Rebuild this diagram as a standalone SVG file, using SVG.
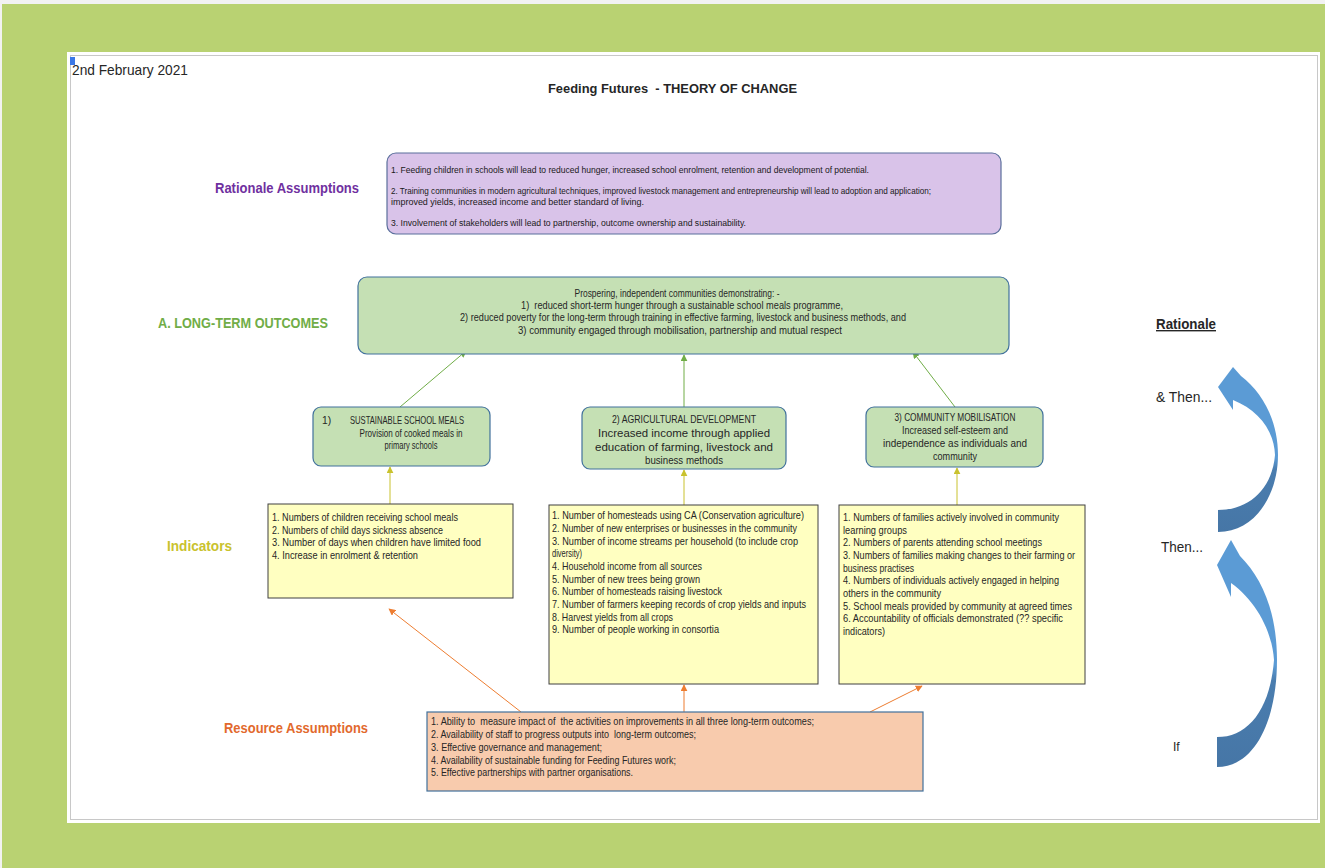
<svg xmlns="http://www.w3.org/2000/svg" width="1325" height="868" viewBox="0 0 1325 868">
<style>
text{font-family:"Liberation Sans",Arial,sans-serif;fill:#262626}
.t{font-size:10.3px}
.r{font-size:9.6px;fill:#1a1a1a}
.lbl{font-size:15px;font-weight:bold}
.rb{fill:#D9C3E9;stroke:#5B6F9C;stroke-width:1.2}
.gb{fill:#C5E0B4;stroke:#41719C;stroke-width:1.2}
.yb{fill:#FFFFC1;stroke:#404040;stroke-width:1}
.ob{fill:#F8CBAD;stroke:#41719C;stroke-width:1.2}
.cg{stroke:#70AD47;stroke-width:1;fill:none}
.cy{stroke:#C9C22E;stroke-width:1;fill:none}
.co{stroke:#ED7D31;stroke-width:1;fill:none}
.mid{text-anchor:middle}
</style>
<defs>
<marker id="ag" viewBox="0 0 10 10" refX="9" refY="5" markerWidth="7" markerHeight="7" markerUnits="userSpaceOnUse" orient="auto"><path d="M0,0 L10,5 L0,10 Z" fill="#70AD47"/></marker>
<marker id="ay" viewBox="0 0 10 10" refX="9" refY="5" markerWidth="7" markerHeight="7" markerUnits="userSpaceOnUse" orient="auto"><path d="M0,0 L10,5 L0,10 Z" fill="#C9C22E"/></marker>
<marker id="ao" viewBox="0 0 10 10" refX="9" refY="5" markerWidth="7" markerHeight="7" markerUnits="userSpaceOnUse" orient="auto"><path d="M0,0 L10,5 L0,10 Z" fill="#ED7D31"/></marker>
<linearGradient id="bl1" x1="0" y1="0" x2="0" y2="1"><stop offset="0" stop-color="#5B9BD5"/><stop offset="0.55" stop-color="#5B9BD5"/><stop offset="0.62" stop-color="#4A7DAF"/><stop offset="1" stop-color="#4676A6"/></linearGradient>
</defs>
<rect x="0" y="0" width="1325" height="868" fill="#F2F2F2"/>
<rect x="2" y="4" width="1323" height="864" fill="#B9D272"/>
<rect x="67" y="52" width="1253" height="771" fill="#FFFFFF"/>
<rect x="70.5" y="55.5" width="1247" height="764" fill="none" stroke="#C8C8C8" stroke-width="1"/>
<rect x="70" y="57" width="5" height="8" fill="#3B78E7"/>
<text x="72" y="75" style="font-size:15px" textLength="116" lengthAdjust="spacingAndGlyphs">2nd February 2021</text>
<text x="548" y="93" xml:space="preserve" style="font-size:13px;font-weight:bold" textLength="249" lengthAdjust="spacingAndGlyphs">Feeding Futures  - THEORY OF CHANGE</text>

<text x="215" y="193" class="lbl" style="fill:#7030A0" textLength="144" lengthAdjust="spacingAndGlyphs">Rationale Assumptions</text>
<text x="158" y="328" class="lbl" style="fill:#70AD47" textLength="170" lengthAdjust="spacingAndGlyphs">A. LONG-TERM OUTCOMES</text>
<text x="167" y="551" class="lbl" style="fill:#C9C22E" textLength="65" lengthAdjust="spacingAndGlyphs">Indicators</text>
<text x="224" y="733" class="lbl" style="fill:#E2692D" textLength="144" lengthAdjust="spacingAndGlyphs">Resource Assumptions</text>

<g id="connectors">
<line class="cg" x1="400" y1="407" x2="466" y2="351" marker-end="url(#ag)"/>
<line class="cg" x1="684" y1="407" x2="684" y2="355" marker-end="url(#ag)"/>
<line class="cg" x1="955" y1="407" x2="913" y2="352" marker-end="url(#ag)"/>
<line class="cy" x1="390" y1="504" x2="390" y2="467" marker-end="url(#ay)"/>
<line class="cy" x1="684" y1="505" x2="684" y2="470" marker-end="url(#ay)"/>
<line class="cy" x1="957" y1="505" x2="957" y2="468" marker-end="url(#ay)"/>
<line class="co" x1="521" y1="712" x2="389" y2="609" marker-end="url(#ao)"/>
<line class="co" x1="684" y1="712" x2="684" y2="685" marker-end="url(#ao)"/>
<line class="co" x1="870" y1="712" x2="922" y2="686" marker-end="url(#ao)"/>
</g>

<g id="rationale-assumptions">
<rect class="rb" x="387" y="153" width="614" height="81" rx="9"/>
<text class="r" x="391" y="173" textLength="478" lengthAdjust="spacingAndGlyphs">1. Feeding children in schools will lead to reduced hunger, increased school enrolment, retention and development of potential.</text>
<text class="r" x="391" y="194" textLength="540" lengthAdjust="spacingAndGlyphs">2. Training communities in modern agricultural techniques, improved livestock management and entrepreneurship will lead to adoption and application;</text>
<text class="r" x="391" y="205" textLength="253" lengthAdjust="spacingAndGlyphs">improved yields, increased income and better standard of living.</text>
<text class="r" x="391" y="226" textLength="355" lengthAdjust="spacingAndGlyphs">3. Involvement of stakeholders will lead to partnership, outcome ownership and sustainability.</text>
</g>

<g id="long-term-outcomes">
<rect class="gb" x="358" y="277" width="651" height="77" rx="9"/>
<text class="t mid" x="677" y="297" textLength="205" lengthAdjust="spacingAndGlyphs">Prospering, independent communities demonstrating: -</text>
<text class="t mid" x="682" y="309" xml:space="preserve" textLength="322" lengthAdjust="spacingAndGlyphs">1)  reduced short-term hunger through a sustainable school meals programme,</text>
<text class="t mid" x="683" y="321" textLength="446" lengthAdjust="spacingAndGlyphs">2) reduced poverty for the long-term through training in effective farming, livestock and business methods, and</text>
<text class="t mid" x="680" y="334" textLength="324" lengthAdjust="spacingAndGlyphs">3) community engaged through mobilisation, partnership and mutual respect</text>
</g>

<g id="school-meals">
<rect class="gb" x="313" y="407" width="177" height="59" rx="8"/>
<text class="t" x="322" y="424">1)</text>
<text class="t" x="350" y="424" textLength="114" lengthAdjust="spacingAndGlyphs">SUSTAINABLE SCHOOL MEALS</text>
<text class="t mid" x="411" y="437" textLength="103" lengthAdjust="spacingAndGlyphs">Provision of cooked meals in</text>
<text class="t mid" x="411" y="449" textLength="53" lengthAdjust="spacingAndGlyphs">primary schools</text>
</g>

<g id="agricultural-development">
<rect class="gb" x="582" y="407" width="204" height="62" rx="8"/>
<text class="t mid" x="684" y="423" style="font-size:11px" textLength="144" lengthAdjust="spacingAndGlyphs">2) AGRICULTURAL DEVELOPMENT</text>
<text class="t mid" x="684" y="437" style="font-size:11px" textLength="172" lengthAdjust="spacingAndGlyphs">Increased income through applied</text>
<text class="t mid" x="684" y="451" style="font-size:11px" textLength="178" lengthAdjust="spacingAndGlyphs">education of farming, livestock and</text>
<text class="t mid" x="684" y="464" style="font-size:11px" textLength="78" lengthAdjust="spacingAndGlyphs">business methods</text>
</g>

<g id="community-mobilisation">
<rect class="gb" x="866" y="407" width="177" height="60" rx="8"/>
<text class="t mid" x="955" y="421" textLength="121" lengthAdjust="spacingAndGlyphs">3) COMMUNITY MOBILISATION</text>
<text class="t mid" x="955" y="434" textLength="106" lengthAdjust="spacingAndGlyphs">Increased self-esteem and</text>
<text class="t mid" x="955" y="447" textLength="144" lengthAdjust="spacingAndGlyphs">independence as individuals and</text>
<text class="t mid" x="955" y="460" textLength="44" lengthAdjust="spacingAndGlyphs">community</text>
</g>

<g id="indicators-school-meals">
<rect class="yb" x="268" y="504" width="245" height="94"/>
<text class="t" x="272" y="521" textLength="186" lengthAdjust="spacingAndGlyphs">1. Numbers of children receiving school meals</text>
<text class="t" x="272" y="534" textLength="171" lengthAdjust="spacingAndGlyphs">2. Numbers of child days sickness absence</text>
<text class="t" x="272" y="546" textLength="209" lengthAdjust="spacingAndGlyphs">3. Number of days when children have limited food</text>
<text class="t" x="272" y="559" textLength="146" lengthAdjust="spacingAndGlyphs">4. Increase in enrolment &amp; retention</text>
</g>

<g id="indicators-agriculture">
<rect class="yb" x="549" y="505" width="269" height="179"/>
<text class="t" x="552" y="519" textLength="252" lengthAdjust="spacingAndGlyphs">1. Number of homesteads using CA (Conservation agriculture)</text>
<text class="t" x="552" y="532" textLength="245" lengthAdjust="spacingAndGlyphs">2. Number of new enterprises or businesses in the community</text>
<text class="t" x="552" y="545" textLength="246" lengthAdjust="spacingAndGlyphs">3. Number of income streams per household (to include crop</text>
<text class="t" x="552" y="557" textLength="30" lengthAdjust="spacingAndGlyphs">diversity)</text>
<text class="t" x="552" y="570" textLength="150" lengthAdjust="spacingAndGlyphs">4. Household income from all sources</text>
<text class="t" x="552" y="583" textLength="148" lengthAdjust="spacingAndGlyphs">5. Number of new trees being grown</text>
<text class="t" x="552" y="595" textLength="170" lengthAdjust="spacingAndGlyphs">6. Number of homesteads raising livestock</text>
<text class="t" x="552" y="608" textLength="254" lengthAdjust="spacingAndGlyphs">7. Number of farmers keeping records of crop yields and inputs</text>
<text class="t" x="552" y="621" textLength="121" lengthAdjust="spacingAndGlyphs">8. Harvest yields from all crops</text>
<text class="t" x="552" y="633" textLength="167" lengthAdjust="spacingAndGlyphs">9. Number of people working in consortia</text>
</g>

<g id="indicators-community">
<rect class="yb" x="839" y="505" width="246" height="179"/>
<text class="t" x="843" y="521" textLength="216" lengthAdjust="spacingAndGlyphs">1. Numbers of families actively involved in community</text>
<text class="t" x="843" y="534" textLength="64" lengthAdjust="spacingAndGlyphs">learning groups</text>
<text class="t" x="843" y="546" textLength="199" lengthAdjust="spacingAndGlyphs">2. Numbers of parents attending school meetings</text>
<text class="t" x="843" y="559" textLength="232" lengthAdjust="spacingAndGlyphs">3. Numbers of families making changes to their farming or</text>
<text class="t" x="843" y="572" textLength="71" lengthAdjust="spacingAndGlyphs">business practises</text>
<text class="t" x="843" y="584" textLength="216" lengthAdjust="spacingAndGlyphs">4. Numbers of individuals actively engaged in helping</text>
<text class="t" x="843" y="597" textLength="98" lengthAdjust="spacingAndGlyphs">others in the community</text>
<text class="t" x="843" y="610" textLength="229" lengthAdjust="spacingAndGlyphs">5. School meals provided by community at agreed times</text>
<text class="t" x="843" y="622" textLength="220" lengthAdjust="spacingAndGlyphs">6. Accountability of officials demonstrated (?? specific</text>
<text class="t" x="843" y="635" textLength="42" lengthAdjust="spacingAndGlyphs">indicators)</text>
</g>

<g id="resource-assumptions">
<rect class="ob" x="427" y="712" width="496" height="79"/>
<text class="t" x="431" y="725" xml:space="preserve" textLength="383" lengthAdjust="spacingAndGlyphs">1. Ability to  measure impact of  the activities on improvements in all three long-term outcomes;</text>
<text class="t" x="431" y="738" xml:space="preserve" textLength="265" lengthAdjust="spacingAndGlyphs">2. Availability of staff to progress outputs into  long-term outcomes;</text>
<text class="t" x="431" y="751" textLength="171" lengthAdjust="spacingAndGlyphs">3. Effective governance and management;</text>
<text class="t" x="431" y="764" textLength="245" lengthAdjust="spacingAndGlyphs">4. Availability of sustainable funding for Feeding Futures work;</text>
<text class="t" x="431" y="776" textLength="202" lengthAdjust="spacingAndGlyphs">5. Effective partnerships with partner organisations.</text>
</g>

<g id="rationale-flow">
<text x="1156" y="329" style="font-size:14px;font-weight:bold;text-decoration:underline" textLength="60" lengthAdjust="spacingAndGlyphs">Rationale</text>
<text x="1156" y="402" style="font-size:14px" textLength="56" lengthAdjust="spacingAndGlyphs">&amp; Then...</text>
<text x="1161" y="552" style="font-size:14px" textLength="42" lengthAdjust="spacingAndGlyphs">Then...</text>
<text x="1173" y="751" style="font-size:12px">If</text>
<path fill="url(#bl1)" d="M1218 532 C1255 532 1278 495 1278 455 C1278 420 1262 392 1241 376 L1233 367 L1218 387 L1233 410 L1233 400 C1258 410 1274 430 1275 455 C1272 490 1248 510 1218 510 Z"/>
<path fill="url(#bl1)" d="M1217 767 C1255 767 1277 720 1277 660 C1277 612 1262 578 1240 556 L1231 540 L1217 565 L1231 597 L1231 583 C1255 600 1272 630 1274 660 C1270 710 1248 737 1217 737 Z"/>
</g>
</svg>
